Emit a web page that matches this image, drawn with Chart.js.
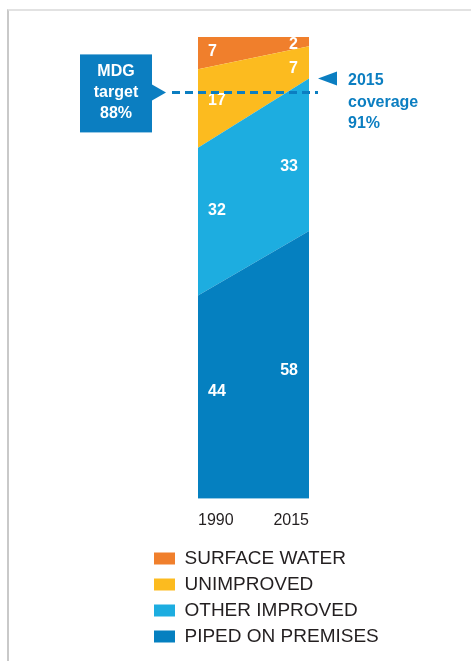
<!DOCTYPE html>
<html>
<head>
<meta charset="utf-8">
<script src="https://cdn.jsdelivr.net/npm/chart.js@4/dist/chart.umd.min.js"></script>
<style>
  html, body { margin: 0; padding: 0; background: #fff; }
  #wrap { position: relative; width: 471px; height: 661px; }
  #frame { position: absolute; left: 7px; top: 9px; right: 0; bottom: 0;
           border-top: 2px solid #e2e2e2; border-left: 2px solid #c9c9c9; }
  canvas { position: absolute; left: 0; top: 0; }
</style>
</head>
<body>
<div id="wrap">
  <div id="frame"></div>
  <canvas id="coverage"></canvas>
</div>
<script>
// drinking water coverage, % of population
var years = ['1990', '2015'];
var piped = [44, 58];
var otherImproved = [32, 33];
var unimproved = [17, 7];
var surfaceWater = [7, 2];
var seriesNames = ['PIPED ON PREMISES', 'OTHER IMPROVED', 'UNIMPROVED', 'SURFACE WATER'];
var seriesColors = ['#0580c0', '#1dade0', '#fcbb1f', '#f07f2c'];
var mdgTarget = 88;
var coverage2015 = 91;

var accent = '#0b7ec1';
var boldFont = 'bold 16px "Liberation Sans", Arial, sans-serif';

var series = [piped, otherImproved, unimproved, surfaceWater];

// white value labels inside each band, plus the target / coverage callouts
var overlay = {
  id: 'overlay',
  afterDatasetsDraw: function (chart) {
    var ctx = chart.ctx, xs = chart.scales.x, ys = chart.scales.y, area = chart.chartArea;
    var x0 = xs.getPixelForValue(0), x1 = xs.getPixelForValue(1);
    ctx.save();
    ctx.font = boldFont;
    ctx.fillStyle = '#fff';
    ctx.textBaseline = 'middle';
    var base = [0, 0];
    series.forEach(function (vals) {
      for (var j = 0; j < 2; j++) {
        var txt = String(vals[j]);
        var w = ctx.measureText(txt).width;
        var cx = j === 0 ? x0 + 10 + w / 2 : x1 - 11 - w / 2;
        var t = (cx - x0) / (x1 - x0);
        var lo = base[0] + (base[1] - base[0]) * t;
        var hi = lo + vals[0] + (vals[1] - vals[0]) * t;
        var y = (ys.getPixelForValue(lo) + ys.getPixelForValue(hi)) / 2;
        y = Math.max(y, area.top + 8);
        ctx.textAlign = 'center';
        ctx.fillText(txt, cx, y);
      }
      base = [base[0] + vals[0], base[1] + vals[1]];
    });

    // MDG target box and dashed line
    var yT = ys.getPixelForValue(mdgTarget);
    var bx = area.left - 118;
    ctx.fillStyle = accent;
    ctx.fillRect(bx, yT - 38, 72, 78);
    ctx.beginPath();
    ctx.moveTo(bx + 72, yT - 8);
    ctx.lineTo(bx + 86, yT);
    ctx.lineTo(bx + 72, yT + 8);
    ctx.closePath();
    ctx.fill();
    ctx.fillStyle = '#fff';
    ctx.textAlign = 'center';
    ctx.fillText('MDG', bx + 36, yT - 21);
    ctx.fillText('target', bx + 36, yT);
    ctx.fillText(mdgTarget + '%', bx + 36, yT + 21);

    ctx.strokeStyle = accent;
    ctx.lineWidth = 3;
    ctx.setLineDash([8, 5]);
    ctx.beginPath();
    ctx.moveTo(area.left - 26, yT);
    ctx.lineTo(area.right + 9, yT);
    ctx.stroke();
    ctx.setLineDash([]);

    // 2015 coverage pointer
    var yC = ys.getPixelForValue(coverage2015);
    var px = area.right + 9;
    ctx.fillStyle = accent;
    ctx.beginPath();
    ctx.moveTo(px, yC);
    ctx.lineTo(px + 19, yC - 7);
    ctx.lineTo(px + 19, yC + 7);
    ctx.closePath();
    ctx.fill();
    ctx.textAlign = 'left';
    ctx.fillText('2015', px + 30, yC + 2);
    ctx.fillText('coverage', px + 30, yC + 24);
    ctx.fillText(coverage2015 + '%', px + 30, yC + 45);
    ctx.restore();
  }
};

var datasets = series.map(function (vals, i) {
  return {
    label: seriesNames[i],
    data: vals,
    backgroundColor: seriesColors[i],
    borderColor: seriesColors[i],
    borderWidth: 0,
    pointRadius: 0,
    tension: 0,
    fill: i === 0 ? 'origin' : '-1'
  };
});

var ctx = document.getElementById('coverage').getContext('2d');
window.coverageChart = new Chart(ctx, {
  type: 'line',
  data: { labels: years, datasets: datasets },
  plugins: [overlay],
  options: {
    responsive: true,
    maintainAspectRatio: false,
    animation: false,
    layout: { padding: { left: 147, right: 12, top: 37, bottom: 5 } },
    plugins: {
      tooltip: { enabled: false },
      legend: {
        position: 'bottom',
        align: 'start',
        reverse: true,
        labels: {
          boxWidth: 21,
          boxHeight: 12,
          padding: 7,
          color: '#231f20',
          font: { size: 19, family: '"Liberation Sans", Arial, sans-serif' }
        }
      }
    },
    scales: {
      x: {
        offset: false,
        grid: { display: false, drawTicks: false },
        border: { display: false },
        ticks: {
          align: 'inner',
          padding: 12,
          color: '#231f20',
          font: { size: 16, family: '"Liberation Sans", Arial, sans-serif' }
        }
      },
      y: {
        stacked: true,
        min: 0,
        max: 100,
        grid: { display: false, drawTicks: false },
        border: { display: false },
        ticks: { display: false },
        afterFit: function (scale) { scale.width = 51; }
      },
      // empty right-hand axis keeps room for the coverage callout
      yRight: {
        position: 'right',
        grid: { display: false, drawTicks: false },
        border: { display: false },
        ticks: { display: false },
        afterFit: function (scale) { scale.width = 150; }
      }
    }
  }
});
</script>
</body>
</html>
